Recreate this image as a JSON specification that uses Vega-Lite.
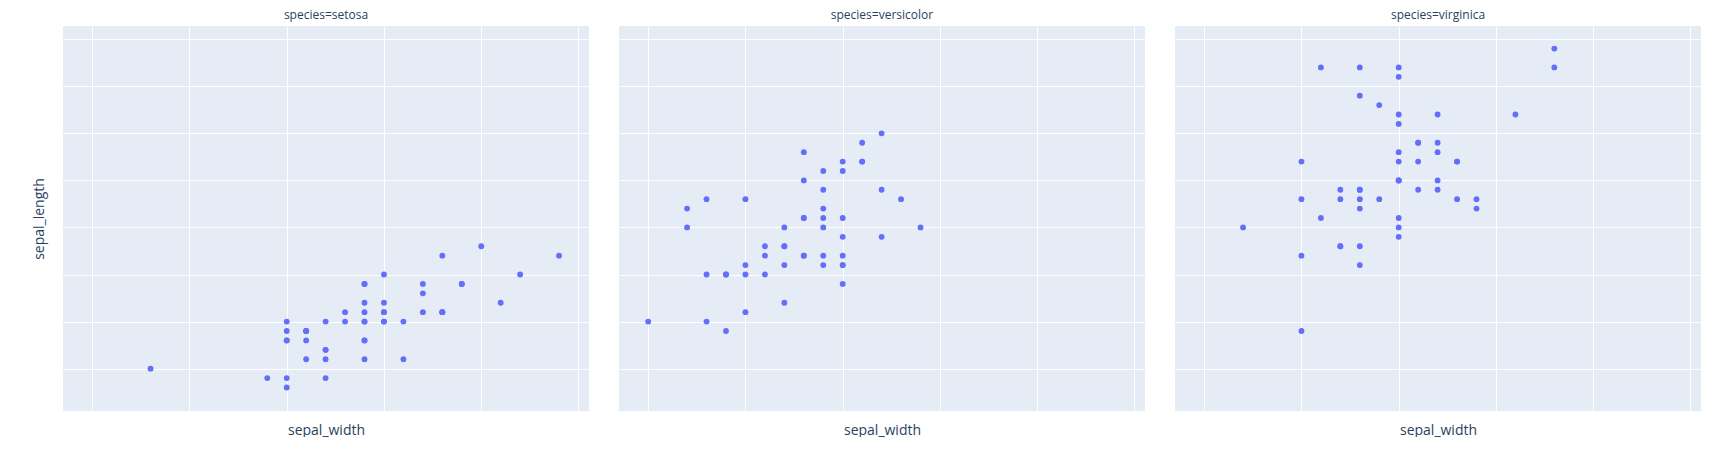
{
  "$schema": "https://vega.github.io/schema/vega-lite/v6.json",
  "padding": {"left": 32, "top": 9, "right": 0, "bottom": 0},
  "autosize": {"type": "pad"},
  "data": {
    "values": [
      {"species": "setosa", "sepal_length": 5.1, "sepal_width": 3.5},
      {"species": "setosa", "sepal_length": 4.9, "sepal_width": 3.0},
      {"species": "setosa", "sepal_length": 4.7, "sepal_width": 3.2},
      {"species": "setosa", "sepal_length": 4.6, "sepal_width": 3.1},
      {"species": "setosa", "sepal_length": 5.0, "sepal_width": 3.6},
      {"species": "setosa", "sepal_length": 5.4, "sepal_width": 3.9},
      {"species": "setosa", "sepal_length": 4.6, "sepal_width": 3.4},
      {"species": "setosa", "sepal_length": 5.0, "sepal_width": 3.4},
      {"species": "setosa", "sepal_length": 4.4, "sepal_width": 2.9},
      {"species": "setosa", "sepal_length": 4.9, "sepal_width": 3.1},
      {"species": "setosa", "sepal_length": 5.4, "sepal_width": 3.7},
      {"species": "setosa", "sepal_length": 4.8, "sepal_width": 3.4},
      {"species": "setosa", "sepal_length": 4.8, "sepal_width": 3.0},
      {"species": "setosa", "sepal_length": 4.3, "sepal_width": 3.0},
      {"species": "setosa", "sepal_length": 5.8, "sepal_width": 4.0},
      {"species": "setosa", "sepal_length": 5.7, "sepal_width": 4.4},
      {"species": "setosa", "sepal_length": 5.4, "sepal_width": 3.9},
      {"species": "setosa", "sepal_length": 5.1, "sepal_width": 3.5},
      {"species": "setosa", "sepal_length": 5.7, "sepal_width": 3.8},
      {"species": "setosa", "sepal_length": 5.1, "sepal_width": 3.8},
      {"species": "setosa", "sepal_length": 5.4, "sepal_width": 3.4},
      {"species": "setosa", "sepal_length": 5.1, "sepal_width": 3.7},
      {"species": "setosa", "sepal_length": 4.6, "sepal_width": 3.6},
      {"species": "setosa", "sepal_length": 5.1, "sepal_width": 3.3},
      {"species": "setosa", "sepal_length": 4.8, "sepal_width": 3.4},
      {"species": "setosa", "sepal_length": 5.0, "sepal_width": 3.0},
      {"species": "setosa", "sepal_length": 5.0, "sepal_width": 3.4},
      {"species": "setosa", "sepal_length": 5.2, "sepal_width": 3.5},
      {"species": "setosa", "sepal_length": 5.2, "sepal_width": 3.4},
      {"species": "setosa", "sepal_length": 4.7, "sepal_width": 3.2},
      {"species": "setosa", "sepal_length": 4.8, "sepal_width": 3.1},
      {"species": "setosa", "sepal_length": 5.4, "sepal_width": 3.4},
      {"species": "setosa", "sepal_length": 5.2, "sepal_width": 4.1},
      {"species": "setosa", "sepal_length": 5.5, "sepal_width": 4.2},
      {"species": "setosa", "sepal_length": 4.9, "sepal_width": 3.1},
      {"species": "setosa", "sepal_length": 5.0, "sepal_width": 3.2},
      {"species": "setosa", "sepal_length": 5.5, "sepal_width": 3.5},
      {"species": "setosa", "sepal_length": 4.9, "sepal_width": 3.1},
      {"species": "setosa", "sepal_length": 4.4, "sepal_width": 3.0},
      {"species": "setosa", "sepal_length": 5.1, "sepal_width": 3.4},
      {"species": "setosa", "sepal_length": 5.0, "sepal_width": 3.5},
      {"species": "setosa", "sepal_length": 4.5, "sepal_width": 2.3},
      {"species": "setosa", "sepal_length": 4.4, "sepal_width": 3.2},
      {"species": "setosa", "sepal_length": 5.0, "sepal_width": 3.5},
      {"species": "setosa", "sepal_length": 5.1, "sepal_width": 3.8},
      {"species": "setosa", "sepal_length": 4.8, "sepal_width": 3.0},
      {"species": "setosa", "sepal_length": 5.1, "sepal_width": 3.8},
      {"species": "setosa", "sepal_length": 4.6, "sepal_width": 3.2},
      {"species": "setosa", "sepal_length": 5.3, "sepal_width": 3.7},
      {"species": "setosa", "sepal_length": 5.0, "sepal_width": 3.3},
      {"species": "versicolor", "sepal_length": 7.0, "sepal_width": 3.2},
      {"species": "versicolor", "sepal_length": 6.4, "sepal_width": 3.2},
      {"species": "versicolor", "sepal_length": 6.9, "sepal_width": 3.1},
      {"species": "versicolor", "sepal_length": 5.5, "sepal_width": 2.3},
      {"species": "versicolor", "sepal_length": 6.5, "sepal_width": 2.8},
      {"species": "versicolor", "sepal_length": 5.7, "sepal_width": 2.8},
      {"species": "versicolor", "sepal_length": 6.3, "sepal_width": 3.3},
      {"species": "versicolor", "sepal_length": 4.9, "sepal_width": 2.4},
      {"species": "versicolor", "sepal_length": 6.6, "sepal_width": 2.9},
      {"species": "versicolor", "sepal_length": 5.2, "sepal_width": 2.7},
      {"species": "versicolor", "sepal_length": 5.0, "sepal_width": 2.0},
      {"species": "versicolor", "sepal_length": 5.9, "sepal_width": 3.0},
      {"species": "versicolor", "sepal_length": 6.0, "sepal_width": 2.2},
      {"species": "versicolor", "sepal_length": 6.1, "sepal_width": 2.9},
      {"species": "versicolor", "sepal_length": 5.6, "sepal_width": 2.9},
      {"species": "versicolor", "sepal_length": 6.7, "sepal_width": 3.1},
      {"species": "versicolor", "sepal_length": 5.6, "sepal_width": 3.0},
      {"species": "versicolor", "sepal_length": 5.8, "sepal_width": 2.7},
      {"species": "versicolor", "sepal_length": 6.2, "sepal_width": 2.2},
      {"species": "versicolor", "sepal_length": 5.6, "sepal_width": 2.5},
      {"species": "versicolor", "sepal_length": 5.9, "sepal_width": 3.2},
      {"species": "versicolor", "sepal_length": 6.1, "sepal_width": 2.8},
      {"species": "versicolor", "sepal_length": 6.3, "sepal_width": 2.5},
      {"species": "versicolor", "sepal_length": 6.1, "sepal_width": 2.8},
      {"species": "versicolor", "sepal_length": 6.4, "sepal_width": 2.9},
      {"species": "versicolor", "sepal_length": 6.6, "sepal_width": 3.0},
      {"species": "versicolor", "sepal_length": 6.8, "sepal_width": 2.8},
      {"species": "versicolor", "sepal_length": 6.7, "sepal_width": 3.0},
      {"species": "versicolor", "sepal_length": 6.0, "sepal_width": 2.9},
      {"species": "versicolor", "sepal_length": 5.7, "sepal_width": 2.6},
      {"species": "versicolor", "sepal_length": 5.5, "sepal_width": 2.4},
      {"species": "versicolor", "sepal_length": 5.5, "sepal_width": 2.4},
      {"species": "versicolor", "sepal_length": 5.8, "sepal_width": 2.7},
      {"species": "versicolor", "sepal_length": 6.0, "sepal_width": 2.7},
      {"species": "versicolor", "sepal_length": 5.4, "sepal_width": 3.0},
      {"species": "versicolor", "sepal_length": 6.0, "sepal_width": 3.4},
      {"species": "versicolor", "sepal_length": 6.7, "sepal_width": 3.1},
      {"species": "versicolor", "sepal_length": 6.3, "sepal_width": 2.3},
      {"species": "versicolor", "sepal_length": 5.6, "sepal_width": 3.0},
      {"species": "versicolor", "sepal_length": 5.5, "sepal_width": 2.5},
      {"species": "versicolor", "sepal_length": 5.5, "sepal_width": 2.6},
      {"species": "versicolor", "sepal_length": 6.1, "sepal_width": 3.0},
      {"species": "versicolor", "sepal_length": 5.8, "sepal_width": 2.6},
      {"species": "versicolor", "sepal_length": 5.0, "sepal_width": 2.3},
      {"species": "versicolor", "sepal_length": 5.6, "sepal_width": 2.7},
      {"species": "versicolor", "sepal_length": 5.7, "sepal_width": 3.0},
      {"species": "versicolor", "sepal_length": 5.7, "sepal_width": 2.9},
      {"species": "versicolor", "sepal_length": 6.2, "sepal_width": 2.9},
      {"species": "versicolor", "sepal_length": 5.1, "sepal_width": 2.5},
      {"species": "versicolor", "sepal_length": 5.7, "sepal_width": 2.8},
      {"species": "virginica", "sepal_length": 6.3, "sepal_width": 3.3},
      {"species": "virginica", "sepal_length": 5.8, "sepal_width": 2.7},
      {"species": "virginica", "sepal_length": 7.1, "sepal_width": 3.0},
      {"species": "virginica", "sepal_length": 6.3, "sepal_width": 2.9},
      {"species": "virginica", "sepal_length": 6.5, "sepal_width": 3.0},
      {"species": "virginica", "sepal_length": 7.6, "sepal_width": 3.0},
      {"species": "virginica", "sepal_length": 4.9, "sepal_width": 2.5},
      {"species": "virginica", "sepal_length": 7.3, "sepal_width": 2.9},
      {"species": "virginica", "sepal_length": 6.7, "sepal_width": 2.5},
      {"species": "virginica", "sepal_length": 7.2, "sepal_width": 3.6},
      {"species": "virginica", "sepal_length": 6.5, "sepal_width": 3.2},
      {"species": "virginica", "sepal_length": 6.4, "sepal_width": 2.7},
      {"species": "virginica", "sepal_length": 6.8, "sepal_width": 3.0},
      {"species": "virginica", "sepal_length": 5.7, "sepal_width": 2.5},
      {"species": "virginica", "sepal_length": 5.8, "sepal_width": 2.8},
      {"species": "virginica", "sepal_length": 6.4, "sepal_width": 3.2},
      {"species": "virginica", "sepal_length": 6.5, "sepal_width": 3.0},
      {"species": "virginica", "sepal_length": 7.7, "sepal_width": 3.8},
      {"species": "virginica", "sepal_length": 7.7, "sepal_width": 2.6},
      {"species": "virginica", "sepal_length": 6.0, "sepal_width": 2.2},
      {"species": "virginica", "sepal_length": 6.9, "sepal_width": 3.2},
      {"species": "virginica", "sepal_length": 5.6, "sepal_width": 2.8},
      {"species": "virginica", "sepal_length": 7.7, "sepal_width": 2.8},
      {"species": "virginica", "sepal_length": 6.3, "sepal_width": 2.7},
      {"species": "virginica", "sepal_length": 6.7, "sepal_width": 3.3},
      {"species": "virginica", "sepal_length": 7.2, "sepal_width": 3.2},
      {"species": "virginica", "sepal_length": 6.2, "sepal_width": 2.8},
      {"species": "virginica", "sepal_length": 6.1, "sepal_width": 3.0},
      {"species": "virginica", "sepal_length": 6.4, "sepal_width": 2.8},
      {"species": "virginica", "sepal_length": 7.2, "sepal_width": 3.0},
      {"species": "virginica", "sepal_length": 7.4, "sepal_width": 2.8},
      {"species": "virginica", "sepal_length": 7.9, "sepal_width": 3.8},
      {"species": "virginica", "sepal_length": 6.4, "sepal_width": 2.8},
      {"species": "virginica", "sepal_length": 6.3, "sepal_width": 2.8},
      {"species": "virginica", "sepal_length": 6.1, "sepal_width": 2.6},
      {"species": "virginica", "sepal_length": 7.7, "sepal_width": 3.0},
      {"species": "virginica", "sepal_length": 6.3, "sepal_width": 3.4},
      {"species": "virginica", "sepal_length": 6.4, "sepal_width": 3.1},
      {"species": "virginica", "sepal_length": 6.0, "sepal_width": 3.0},
      {"species": "virginica", "sepal_length": 6.9, "sepal_width": 3.1},
      {"species": "virginica", "sepal_length": 6.7, "sepal_width": 3.1},
      {"species": "virginica", "sepal_length": 6.9, "sepal_width": 3.1},
      {"species": "virginica", "sepal_length": 5.8, "sepal_width": 2.7},
      {"species": "virginica", "sepal_length": 6.8, "sepal_width": 3.2},
      {"species": "virginica", "sepal_length": 6.7, "sepal_width": 3.3},
      {"species": "virginica", "sepal_length": 6.7, "sepal_width": 3.0},
      {"species": "virginica", "sepal_length": 6.3, "sepal_width": 2.5},
      {"species": "virginica", "sepal_length": 6.5, "sepal_width": 3.0},
      {"species": "virginica", "sepal_length": 6.2, "sepal_width": 3.4},
      {"species": "virginica", "sepal_length": 5.9, "sepal_width": 3.0}
    ]
  },
  "facet": {
    "column": {
      "field": "species",
      "type": "nominal",
      "sort": ["setosa", "versicolor", "virginica"],
      "header": {
        "title": null,
        "labelExpr": "'species=' + datum.value",
        "labelFont": "Open Sans",
        "labelFontSize": 12,
        "labelColor": "#2a3f5f",
        "labelPadding": 4
      }
    }
  },
  "spacing": 30,
  "spec": {
    "width": 526,
    "height": 385,
    "mark": {"type": "circle", "size": 34, "opacity": 1, "color": "#636efa"},
    "encoding": {
      "x": {
        "field": "sepal_width",
        "type": "quantitative",
        "title": "sepal_width",
        "scale": {"domain": [1.85, 4.554], "nice": false, "zero": false},
        "axis": {"values": [2, 2.5, 3, 3.5, 4, 4.5], "titlePadding": 12}
      },
      "y": {
        "field": "sepal_length",
        "type": "quantitative",
        "title": "sepal_length",
        "scale": {"domain": [4.05, 8.14], "nice": false, "zero": false},
        "axis": {"values": [4.5, 5, 5.5, 6, 6.5, 7, 7.5, 8], "titlePadding": 17}
      }
    }
  },
  "config": {
    "view": {"fill": "#E5ECF6", "stroke": null},
    "axis": {
      "labels": false,
      "ticks": false,
      "domain": false,
      "grid": true,
      "gridColor": "#ffffff",
      "gridWidth": 1,
      "gridOpacity": 1,
      "titleFont": "Open Sans",
      "titleFontSize": 14,
      "titleFontWeight": "normal",
      "titleColor": "#2a3f5f"
    }
  }
}
